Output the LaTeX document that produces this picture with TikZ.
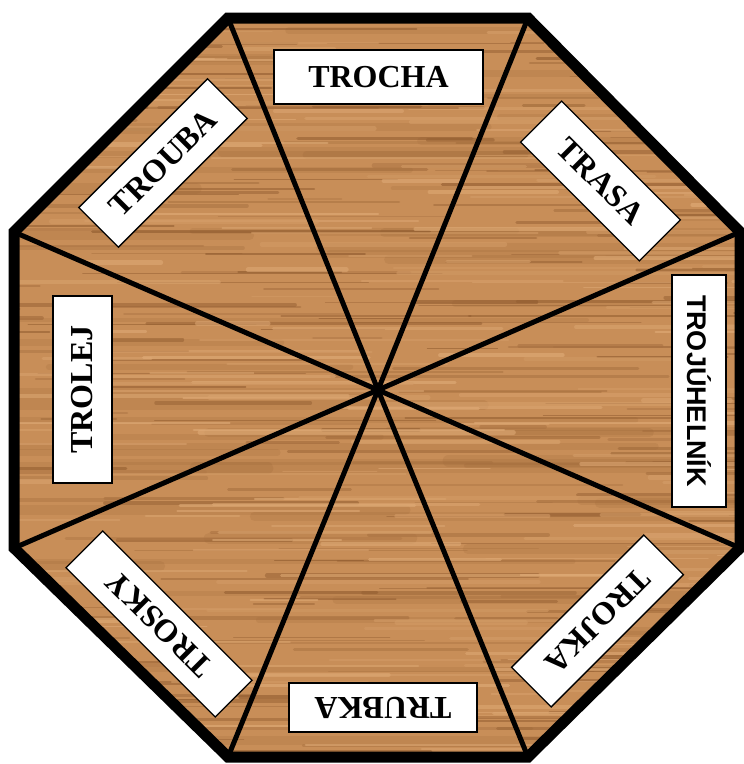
\documentclass[tikz,border=0pt]{standalone}
\usepackage{fontspec}
\setmainfont{Liberation Serif}
\newfontfamily\labsans{Liberation Sans}
\definecolor{wood}{RGB}{200,142,88}
\definecolor{woodL}{RGB}{226,174,122}
\definecolor{woodD}{RGB}{130,78,36}
\tikzset{
  lbl/.style={draw=black, line width=1.3pt, fill=white, inner sep=0pt,
    font=\fontsize{32}{32}\selectfont\bfseries},
  lblsans/.style={lbl, font=\fontsize{27}{27}\selectfont\labsans\bfseries},
  rim/.style={line width=11pt, line join=miter},
  spoke/.style={line width=5pt, line cap=round}
}
\begin{document}
\begin{tikzpicture}[x=1pt,y=-1pt]
\useasboundingbox (0,0) rectangle (744,764);
\coordinate (A) at (228,18);
\coordinate (B) at (528,18);
\coordinate (C) at (740,232);
\coordinate (D) at (740,548);
\coordinate (E) at (528,757);
\coordinate (F) at (228,757);
\coordinate (G) at (14,548);
\coordinate (H) at (14,232);
\coordinate (O) at (378,390);
% wood
\begin{scope}
\clip (A)--(B)--(C)--(D)--(E)--(F)--(G)--(H)--cycle;
\fill[wood] (0,0) rectangle (744,764);
\pgfmathsetseed{11}
\foreach \i in {1,...,60}{
  \pgfmathsetmacro{\yy}{rnd*764}
  \pgfmathsetmacro{\xa}{rnd*844-200}
  \pgfmathsetmacro{\len}{200+rnd*500}
  \pgfmathsetmacro{\w}{4+rnd*8}
  \draw[line width=\w pt, woodD, opacity=0.12, line cap=round] (\xa,\yy) -- ++(\len,0);
}
\foreach \i in {1,...,260}{
  \pgfmathsetmacro{\yy}{rnd*764}
  \pgfmathsetmacro{\xa}{rnd*844-100}
  \pgfmathsetmacro{\len}{60+rnd*300}
  \pgfmathsetmacro{\w}{0.6+rnd*3.5}
  \pgfmathsetmacro{\s}{30+rnd*60}
  \draw[line width=\w pt, woodD!\s!wood, opacity=0.55, line cap=round] (\xa,\yy) -- ++(\len,0);
}
\foreach \i in {1,...,220}{
  \pgfmathsetmacro{\yy}{rnd*764}
  \pgfmathsetmacro{\xa}{rnd*844-100}
  \pgfmathsetmacro{\len}{60+rnd*300}
  \pgfmathsetmacro{\w}{0.8+rnd*4}
  \pgfmathsetmacro{\s}{30+rnd*70}
  \draw[line width=\w pt, woodL!\s!wood, opacity=0.6, line cap=round] (\xa,\yy) -- ++(\len,0);
}
\end{scope}
% spokes
\foreach \v in {A,B,C,D,E,F,G,H}{
  \draw[spoke] (O) -- (\v);
}
% rim
\draw[rim] (A)--(B)--(C)--(D)--(E)--(F)--(G)--(H)--cycle;
% labels
\node[lbl, minimum width=209pt, minimum height=54pt] (trocha) at (378.5,77) {TROCHA};
\node[lbl, minimum width=168pt, minimum height=58pt, rotate=-45] (trasa) at (600.5,181) {TRASA};
\node[lblsans, minimum width=232pt, minimum height=54pt, rotate=-90] (troj) at (699,391) {TROJÚHELNÍK};
\node[lbl, minimum width=187pt, minimum height=56pt, rotate=-135] (trojka) at (597.5,621) {TROJKA};
\node[lbl, minimum width=188pt, minimum height=49pt, rotate=180] (trubka) at (383,707.5) {TRUBKA};
\node[lbl, minimum width=211pt, minimum height=52pt, rotate=135] (trosky) at (159,624) {TROSKY};
\node[lbl, minimum width=187pt, minimum height=59pt, rotate=90] (trolej) at (82.5,389.5) {TROLEJ};
\node[lbl, minimum width=182pt, minimum height=56pt, rotate=45] (trouba) at (163,163) {TROUBA};
\end{tikzpicture}
\end{document}
